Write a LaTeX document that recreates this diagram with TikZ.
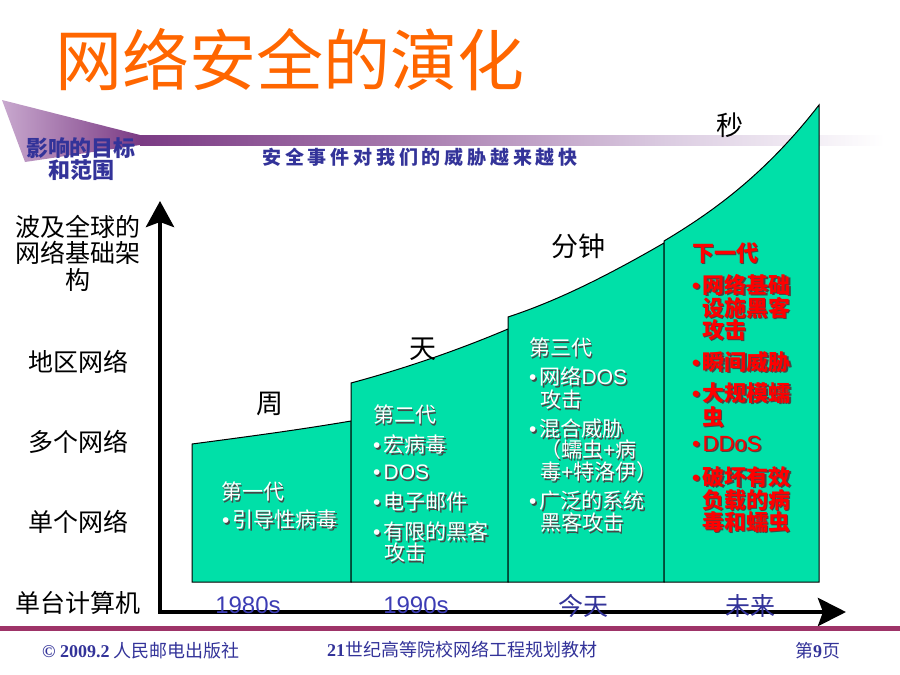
\documentclass[tikz,border=0pt]{standalone}
\usepackage{fontspec}
\setmainfont{Noto Sans CJK SC}
\newfontfamily\latf{Liberation Sans}
\newfontfamily\serf{Liberation Serif}
\newfontfamily\widef[LetterSpace=20]{Noto Sans CJK SC}
\usetikzlibrary{arrows.meta}
\definecolor{barg}{RGB}{0,224,168}
\definecolor{ttlorange}{RGB}{255,102,0}
\definecolor{navyb}{RGB}{51,51,153}
\definecolor{axblue}{RGB}{60,60,180}
\definecolor{pdark}{RGB}{123,59,132}
\definecolor{pmid}{RGB}{165,120,172}
\definecolor{plight}{RGB}{220,205,226}
\definecolor{ptri}{RGB}{200,168,206}
\definecolor{maroonl}{RGB}{158,52,104}
\definecolor{shadowc}{RGB}{70,70,70}
\definecolor{redt}{RGB}{255,0,0}
\pgfdeclarehorizontalshading{bandshade}{100bp}{color(0bp)=(pdark); color(25bp)=(pdark); color(42bp)=(pmid); color(60bp)=(plight); color(74bp)=(white); color(100bp)=(white)}
\newcommand\shtx[2]{\makebox[0pt][l]{\hspace*{1.4pt}\raisebox{-1.4pt}{\color{shadowc}#2}}{\color{#1}#2}}
\newcommand\bul{\makebox[10.5pt][l]{\latf •}}
\tikzset{
  fs/.code={\pgfmathsetmacro\mytxh{0.80*#1}\pgfmathsetmacro\mytxd{0.04*#1}%
    \tikzset{font=\fontsize{#1pt}{#1pt}\selectfont,text height=\mytxh pt,text depth=\mytxd pt}},
  txt/.style={inner sep=0pt},
  wl/.style={inner sep=0pt, anchor=west},
  bar/.style={fill=barg, draw=black, line width=1pt},
  axis/.style={line width=4.5pt, line join=miter},
  wtxt/.style={wl, fs=21},
  rtxt/.style={wl, fs=22},
}
\begin{document}
\begin{tikzpicture}[x=1pt,y=-1pt]
\useasboundingbox (0,0) rectangle (900,675);
% title
\node[txt, fs=67, text=ttlorange] (title) at (290,60) {网络安全的演化};
% band
\shade[shading=bandshade] (140,135) rectangle (900,145);
\shade[left color=ptri, right color=pdark] (2,100) -- (140,135) -- (140,145) -- (25,162) -- cycle;
\node[txt, fs=22, text=navyb] (tgt1) at (81,148) {\bfseries 影响的目标};
\node[txt, fs=22, text=navyb] (tgt2) at (81,170) {\bfseries 和范围};
\node[txt, fs=19, text=navyb] (speed) at (420,157) {\widef\bfseries 安全事件对我们的威胁越来越快};
% bars
\path[bar] (192,582) -- (192,444) .. controls (245,437) and (298,430) .. (351,421) -- (351,582) -- cycle;
\path[bar] (351,582) -- (351,383) .. controls (403,369) and (456,351) .. (508,329) -- (508,582) -- cycle;
\path[bar] (508,582) -- (508,317) .. controls (560,300) and (612,273) .. (664,243) -- (664,582) -- cycle;
\path[bar] (664,582) -- (664,241) .. controls (716,210) and (767,172) .. (819,105) -- (819,582) -- cycle;
% axes
\coordinate (orig) at (160,612);
\coordinate (ytip) at (160,201);
\coordinate (xtip) at (846,612);
\draw[axis, {Stealth[length=26pt,width=28pt,inset=5pt]}-{Stealth[length=28pt,width=28pt,inset=5pt]}] (ytip) -- (orig) -- (xtip);
% left labels
\node[txt, fs=25] (l1a) at (78,227) {波及全球的};
\node[txt, fs=25] (l1b) at (78,253) {网络基础架};
\node[txt, fs=25] (l1c) at (78,280) {构};
\node[txt, fs=25] (l2) at (78,362) {地区网络};
\node[txt, fs=25] (l3) at (78,442) {多个网络};
\node[txt, fs=25] (l4) at (78,522) {单个网络};
\node[txt, fs=25] (l5) at (78,603) {单台计算机};
% time labels
\node[txt, fs=27] (t1) at (270,403) {周};
\node[txt, fs=27] (t2) at (423,348) {天};
\node[txt, fs=27] (t3) at (578,246) {分钟};
\node[txt, fs=27] (t4) at (730,125) {秒};
% bar 1
\node[wtxt] (b1a) at (221,492) {\shtx{white}{第一代}};
\node[wtxt] (b1b) at (222,520) {\shtx{white}{\bul 引导性病毒}};
% bar 2
\node[wtxt] (b2a) at (373,415) {\shtx{white}{第二代}};
\node[wtxt] (b2b) at (373,445) {\shtx{white}{\bul 宏病毒}};
\node[wtxt] (b2c) at (373,472) {\shtx{white}{\bul{\latf DOS}}};
\node[wtxt] (b2d) at (373,502) {\shtx{white}{\bul 电子邮件}};
\node[wtxt] (b2e) at (373,532) {\shtx{white}{\bul 有限的黑客}};
\node[wtxt] (b2f) at (384,553) {\shtx{white}{攻击}};
% bar 3
\node[wtxt] (b3a) at (529,348) {\shtx{white}{第三代}};
\node[wtxt] (b3b) at (529,377) {\shtx{white}{\bul 网络{\latf DOS}}};
\node[wtxt] (b3c) at (540,400) {\shtx{white}{攻击}};
\node[wtxt] (b3d) at (529,429) {\shtx{white}{\bul 混合威胁}};
\node[wtxt] (b3e) at (540,450) {\shtx{white}{（蠕虫{\latf +}病}};
\node[wtxt] (b3f) at (540,472) {\shtx{white}{毒{\latf +}特洛伊）}};
\node[wtxt] (b3g) at (529,501) {\shtx{white}{\bul 广泛的系统}};
\node[wtxt] (b3h) at (540,523) {\shtx{white}{黑客攻击}};
% bar 4
\node[rtxt] (b4a) at (692,253) {\shtx{redt}{\bfseries 下一代}};
\node[rtxt] (b4b) at (692,285) {\shtx{redt}{\bfseries\bul 网络基础}};
\node[rtxt] (b4c) at (702,308) {\shtx{redt}{\bfseries 设施黑客}};
\node[rtxt] (b4d) at (702,330) {\shtx{redt}{\bfseries 攻击}};
\node[rtxt] (b4e) at (692,362) {\shtx{redt}{\bfseries\bul 瞬间威胁}};
\node[rtxt] (b4f) at (692,393) {\shtx{redt}{\bfseries\bul 大规模蠕}};
\node[rtxt] (b4g) at (702,417) {\shtx{redt}{\bfseries 虫}};
\node[rtxt] (b4h) at (692,443) {\shtx{redt}{\bul{\latf DDoS}}};
\node[rtxt] (b4i) at (692,477) {\shtx{redt}{\bfseries\bul 破坏有效}};
\node[rtxt] (b4j) at (702,500) {\shtx{redt}{\bfseries 负载的病}};
\node[rtxt] (b4k) at (702,522) {\shtx{redt}{\bfseries 毒和蠕虫}};
% x labels
\node[txt, fs=24, text=axblue] (x1) at (248,604) {\latf 1980s};
\node[txt, fs=24, text=axblue] (x2) at (416,604) {\latf 1990s};
\node[txt, fs=25, text=navyb] (x3) at (583,606) {今天};
\node[txt, fs=25, text=navyb] (x4) at (750,606) {未来};
% footer
\fill[maroonl] (0,626) rectangle (900,631);
\node[wl, fs=18, text=navyb] (pub) at (42,651) {{\serf\bfseries © 2009.2} 人民邮电出版社};
\node[wl, fs=18, text=navyb] (series) at (327,650) {{\serf\bfseries 21}世纪高等院校网络工程规划教材};
\node[wl, fs=18, text=navyb] (page) at (795,651) {第{\serf\bfseries 9}页};
\end{tikzpicture}
\end{document}
